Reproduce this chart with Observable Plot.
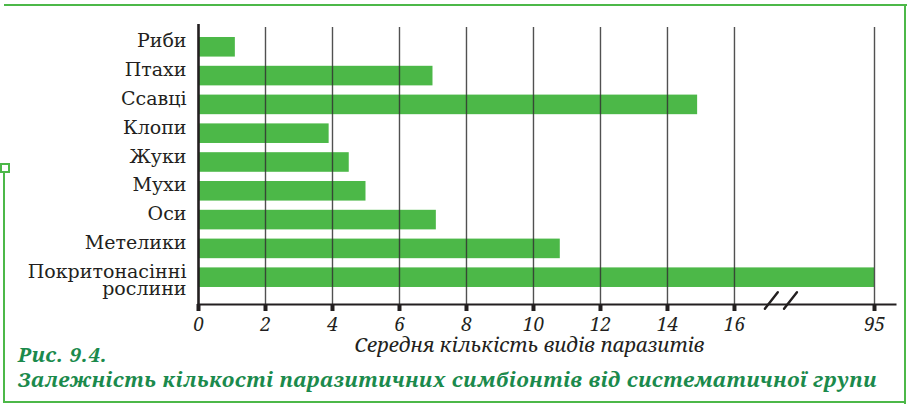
<!DOCTYPE html>
<html><head><meta charset="utf-8">
<script src="https://cdn.jsdelivr.net/npm/d3@7"></script>
<script src="https://cdn.jsdelivr.net/npm/@observablehq/plot@0.6"></script>
<style>
body{margin:0;background:#fff;}
#wrap{position:relative;width:907px;height:404px;overflow:hidden;font-family:"DejaVu Serif",serif;}
#chart{position:absolute;left:0;top:0;}
.b{position:absolute;background:#4cb848;}
#sq{position:absolute;left:0;top:163px;width:6px;height:6px;border:2px solid #4cb848;background:#fff;}
.cap{position:absolute;left:18px;font-family:"Noto Serif",serif;font-style:italic;font-weight:bold;font-size:20.5px;letter-spacing:0.6px;color:#1b8a4c;white-space:nowrap;line-height:1;}
</style></head><body>
<div id="wrap">
  <div id="chart"></div>
  <div class="b" style="left:4px;top:4px;width:903px;height:2px"></div>
  <div class="b" style="left:904px;top:4px;width:2px;height:400px"></div>
  <div class="b" style="left:3px;top:401px;width:903px;height:2px"></div>
  <div class="b" style="left:3px;top:172px;width:2px;height:231px"></div>
  <div id="sq"></div>
  <div class="cap" id="cap1" style="top:344px">Рис. 9.4.</div>
  <div class="cap" id="cap2" style="top:369px">Залежність кількості паразитичних симбіонтів від систематичної групи</div>
</div>
<script>
const categories = ["Риби", "Птахи", "Ссавці", "Клопи", "Жуки", "Мухи", "Оси", "Метелики", "Покритонасінні рослини"];
const categoryLabels = ["Риби", "Птахи", "Ссавці", "Клопи", "Жуки", "Мухи", "Оси", "Метелики", "Покритонасінні\nрослини"];
const values = [1.1, 7, 14.9, 3.9, 4.5, 5, 7.1, 10.8, 95];
const tickValues = [0, 2, 4, 6, 8, 10, 12, 14, 16, 95];
const tickLabels = ["0", "2", "4", "6", "8", "10", "12", "14", "16", "95"];
const breakMarks = [36.8, 47.6];
const axisLabel = "Середня кількість видів паразитів";

// broken axis: linear up to 16, compressed between 16 and 95
const BREAK = 16, MAXV = 95, SPAN = 4.18;
const brk = v => v <= BREAK ? v : BREAK + (v - BREAK) * SPAN / (MAXV - BREAK);

const data = categories.map((c, i) => ({c, v: values[i], label: categoryLabels[i]}));
const ink = "#231f20";
const font = "DejaVu Serif";
const italicFont = "Noto Serif";

const chart = Plot.plot({
  width: 907, height: 404,
  marginLeft: 198, marginRight: 33, marginTop: 27, marginBottom: 100,
  x: {domain: [0, brk(MAXV)], axis: null},
  y: {domain: categories, paddingInner: 0.32, paddingOuter: 0.469, align: 0.37, round: false, axis: null},
  style: {fontFamily: font, color: ink, background: "transparent"},
  marks: [
    Plot.barX(data, {y: "c", x: d => brk(d.v), fill: "#4cb848"}),
    Plot.ruleX(tickValues.filter(v => v > 0), {x: brk, stroke: "#333", strokeWidth: 1.4, strokeOpacity: 0.85}),
    Plot.ruleX([0], {stroke: ink, strokeWidth: 2.6, insetTop: -3}),
    Plot.frame({anchor: "bottom", stroke: ink, strokeWidth: 2, insetRight: -21}),
    Plot.axisX(tickValues.map(brk), {
      tickSize: 7, strokeWidth: 4, stroke: ink, tickPadding: 6,
      tickFormat: d => tickLabels[tickValues.findIndex(v => Math.abs(brk(v) - d) < 1e-9)],
      fontSize: 19, fontStyle: "italic", fontFamily: italicFont, fill: ink, label: null
    }),
    Plot.vector(breakMarks, {
      x: brk, frameAnchor: "bottom", length: 21, rotate: 38, anchor: "middle", dy: -4,
      stroke: ink, strokeWidth: 2.4,
      shape: {draw(context, l) { context.moveTo(0, 0); context.lineTo(0, -l); }}
    }),
    Plot.text(data, {
      y: "c", text: "label", frameAnchor: "left", textAnchor: "end", dx: -12,
      lineAnchor: "top", dy: -12, fontSize: 19, lineHeight: 0.9, fill: ink
    }),
    Plot.text([axisLabel], {
      frameAnchor: "bottom", lineAnchor: "middle", text: d => d, dy: 41, dx: -7, fontSize: 20.5,
      fontStyle: "italic", fontFamily: italicFont, fill: ink
    })
  ]
});
document.getElementById("chart").appendChild(chart);
</script>
</body></html>
